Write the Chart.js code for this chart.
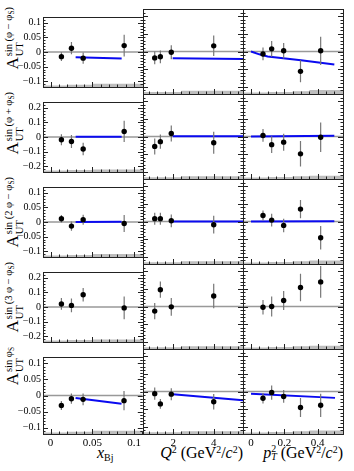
<!DOCTYPE html>
<html lang="en">
<head>
<meta charset="UTF-8">
<title>Transverse target spin asymmetries</title>
<script src="https://cdn.jsdelivr.net/npm/chart.js"></script>
<style>
  body { margin: 0; background: #fff; width: 354px; height: 471px; position: relative; overflow: hidden;
         font-family: "Liberation Serif", "DejaVu Serif", serif; color: #000; }
  canvas { position: absolute; }
  .yt { position: absolute; left: -30px; width: 86px; height: 28px; line-height: 28px; transform: rotate(-90deg);
        text-align: right; white-space: nowrap; }
  .yt .A { font-size: 17px; }
  .yt .ss { display: inline-block; vertical-align: middle; line-height: 11px; font-size: 10.5px; text-align: left; margin-left: 1px; }
  .yt .ss span { display: block; }
  .yt sub { font-size: 0.7em; vertical-align: -0.25em; line-height: 0; }
  .xt { position: absolute; top: 444px; font-size: 16px; line-height: 18px; white-space: nowrap; }
  .xt sup { font-size: 0.62em; vertical-align: 0.5em; line-height: 0; }
  .xt sub { font-size: 0.62em; vertical-align: -0.3em; line-height: 0; }
  .xt .st { display: inline-block; vertical-align: -0.25em; font-size: 0.62em; line-height: 0.85em; }
  .xt .st span { display: block; }
</style>
</head>
<body>
<div class="yt" style="top:36px"><span class="A">A</span><span class="ss"><span>sin (φ − φ<sub>S</sub>)</span><span>UT</span></span></div>
<div class="yt" style="top:121px"><span class="A">A</span><span class="ss"><span>sin (φ + φ<sub>S</sub>)</span><span>UT</span></span></div>
<div class="yt" style="top:206px"><span class="A">A</span><span class="ss"><span>sin (2 φ − φ<sub>S</sub>)</span><span>UT</span></span></div>
<div class="yt" style="top:291px"><span class="A">A</span><span class="ss"><span>sin (3 φ − φ<sub>S</sub>)</span><span>UT</span></span></div>
<div class="yt" style="top:376px"><span class="A">A</span><span class="ss"><span>sin φ<sub>S</sub></span><span>UT</span></span></div>

<div class="xt" style="left:97px"><i>x</i><sub>Bj</sub></div>
<div class="xt" style="right:111px"><i>Q</i><sup>2</sup> (GeV<sup>2</sup>/<i>c</i><sup>2</sup>)</div>
<div class="xt" style="right:11px"><i>p</i><span class="st"><span>2</span><span><i>T</i></span></span> (GeV<sup>2</sup>/<i>c</i><sup>2</sup>)</div>

<script>
// kinematic bins (mean values)
const xBjBins = [0.013, 0.025, 0.039, 0.088];
const q2Bins = [1.08, 1.36, 1.9, 4.0];
const pt2Bins = [0.072, 0.124, 0.196, 0.297, 0.418];

// asymmetries [xBj, Q2, pT2] and statistical errors
const aPhiMinus = [[-0.016, 0.013, -0.021, 0.022], [-0.018, -0.015, -0.002, 0.016], [-0.007, 0.0075, 0.002, -0.056, 0.002]];
const ePhiMinus = [[0.015, 0.021, 0.019, 0.037], [0.018, 0.018, 0.02, 0.029], [0.018, 0.022, 0.022, 0.031, 0.04]];
const aPhiPlus = [[-0.019, -0.031, -0.082, 0.038], [-0.056, -0.029, 0.017, -0.035], [0.006, -0.046, -0.032, -0.098, -0.004]];
const ePhiPlus = [[0.038, 0.045, 0.043, 0.073], [0.045, 0.04, 0.045, 0.062], [0.036, 0.047, 0.048, 0.072, 0.083]];
const a2Phi = [[0.011, -0.014, 0.008, -0.005], [0.008, 0.008, 0.002, -0.009], [0.017, 0.004, -0.011, 0.035, -0.046]];
const e2Phi = [[0.013, 0.016, 0.017, 0.029], [0.017, 0.017, 0.018, 0.025], [0.014, 0.018, 0.019, 0.026, 0.033]];
const a3Phi = [[0.021, 0.011, 0.084, -0.006], [-0.026, 0.095, -0.002, 0.059], [-0.004, 0.0, 0.034, 0.107, 0.139]];
const e3Phi = [[0.04, 0.047, 0.047, 0.078], [0.046, 0.046, 0.05, 0.069], [0.041, 0.056, 0.054, 0.078, 0.09]];
const aPhiS = [[-0.031, -0.01, -0.012, -0.016], [-0.006, -0.035, -0.0075, -0.029], [-0.019, -0.003, -0.014, -0.045, -0.039]];
const ePhiS = [[0.014, 0.016, 0.018, 0.03], [0.017, 0.014, 0.017, 0.022], [0.015, 0.02, 0.018, 0.027, 0.033]];

// model curves (blue)
const cPhiMinusX = [[0.030, 0.085], [1.97, 5.45], [0, 0.05, 0.1, 0.3, 0.5]];
const cPhiMinusY = [[-0.018, -0.022], [-0.019, -0.021], [0, -0.008, -0.014, -0.025, -0.037]];
const cFlatX = [[0.030, 0.085], [1.97, 5.45], [0, 0.5]];
const cPhiPlusY = [[0.001, 0.002], [0.002, 0.002], [0.0, 0.004]];
const c2PhiY = [[0.0, 0.0005], [0.0, 0.0], [0.0, 0.001]];
const cPhiSX = [[0.030, 0.085], [1.97, 5.45], [0, 0.504]];
const cPhiSY = [[-0.0075, -0.026], [-0.0075, -0.025], [-0.0066, -0.018]];

// systematic uncertainty bands
const sysEdges = [[-0.009, 0.02, 0.05, 0.1105], [0.5, 2.4, 5.45], [-0.048, 0.1, 0.25, 0.35, 0.552]];
const sysPhiMinus = [[0.005, 0.008, 0.011], [0.006, 0.009], [0.004, 0.006, 0.008, 0.011]];
const sysPhiPlus = [[0.01, 0.014, 0.018], [0.01, 0.016], [0.008, 0.011, 0.015, 0.018]];
const sys2Phi = [[0.005, 0.007, 0.01], [0.005, 0.008], [0.004, 0.006, 0.008, 0.01]];
const sys3Phi = [[0.01, 0.014, 0.018], [0.01, 0.016], [0.008, 0.011, 0.015, 0.018]];
const sysPhiS = [[0.005, 0.007, 0.01], [0.005, 0.008], [0.004, 0.006, 0.008, 0.01]];

// axes
const xLim = [[-0.009, 0.1105], [0.5, 5.45], [-0.048, 0.552]];
const xMajor = [[0, 0.05, 0.1], [2, 4], [0, 0.2, 0.4]];
const xMinor = [0.01, 0.4, 0.05];

const bins = [xBjBins, q2Bins, pt2Bins];
const rows = [
  { a: aPhiMinus, e: ePhiMinus, cx: cPhiMinusX, cy: cPhiMinusY, sys: sysPhiMinus, lim: 0.12 },
  { a: aPhiPlus, e: ePhiPlus, cx: cFlatX, cy: cPhiPlusY, sys: sysPhiPlus, lim: 0.24 },
  { a: a2Phi, e: e2Phi, cx: cFlatX, cy: c2PhiY, sys: sys2Phi, lim: 0.12 },
  { a: a3Phi, e: e3Phi, cx: null, cy: null, sys: sys3Phi, lim: 0.24 },
  { a: aPhiS, e: ePhiS, cx: cPhiSX, cy: cPhiSY, sys: sysPhiS, lim: 0.12 }
];

const SERIF = '"Liberation Serif", "DejaVu Serif", serif';
const fmt = v => v === 0 ? '0' : (v < 0 ? '\u2212' : '') + String(+Math.abs(v).toFixed(3));

// ROOT-like frame with inward ticks
const frame = {
  id: 'frame',
  afterDatasetsDraw(chart, args, o) {
    const { ctx, chartArea: a, scales: { x, y } } = chart;
    const px = v => Math.round(v) + 0.5;
    const each = (s, step, major, fn) => {
      for (let k = Math.ceil(s.min / step - 1e-6); k * step <= s.max + 1e-9; k++) {
        const v = k * step;
        fn(s.getPixelForValue(v), major.some(m => Math.abs(m - v) < step / 10));
      }
    };
    ctx.save();
    ctx.strokeStyle = '#222';
    ctx.lineWidth = 1;
    ctx.beginPath();
    each(x, o.xMinor, o.xMajor, (p, big) => {
      ctx.moveTo(px(p), a.bottom); ctx.lineTo(px(p), a.bottom - (big ? 5 : 2.5));
    });
    each(y, o.yMinor, o.yMajor, (p, big) => {
      const l = big ? 5 : 2.5;
      ctx.moveTo(a.left, px(p)); ctx.lineTo(a.left + l, px(p));
      ctx.moveTo(a.right, px(p)); ctx.lineTo(a.right - l, px(p));
    });
    ctx.stroke();
    ctx.strokeRect(px(a.left), px(a.top), Math.round(a.right) - Math.round(a.left), Math.round(a.bottom) - Math.round(a.top));
    ctx.restore();
  }
};

// vertical error bars, drawn just before the points
const errBars = {
  id: 'errBars',
  beforeDatasetDraw(chart, args) {
    const ds = chart.data.datasets[args.index];
    if (!ds.errors) return;
    const { ctx, scales: { x, y } } = chart;
    ctx.save();
    ctx.strokeStyle = '#777';
    ctx.lineWidth = 1.2;
    ctx.beginPath();
    ds.data.forEach((p, i) => {
      const xp = x.getPixelForValue(p.x);
      ctx.moveTo(xp, y.getPixelForValue(p.y - ds.errors[i]));
      ctx.lineTo(xp, y.getPixelForValue(p.y + ds.errors[i]));
    });
    ctx.stroke();
    ctx.restore();
  }
};

function makePanel(r, c) {
  const row = rows[r];
  const left = 43 + 100 * c, top = 9 + 85 * r;
  const yAxW = c === 0 ? 25 : 0, xAxH = r === 4 ? 18 : 0;
  const cv = document.createElement('canvas');
  cv.width = 101 + yAxW;
  cv.height = 86 + xAxH;
  cv.style.left = (left - yAxW) + 'px';
  cv.style.top = top + 'px';
  document.body.appendChild(cv);

  const lim = row.lim;
  const yMajor = lim > 0.2 ? [-0.2, -0.1, 0, 0.1, 0.2] : [-0.1, -0.05, 0, 0.05, 0.1];
  const yMinor = lim > 0.2 ? 0.02 : 0.01;
  const edges = sysEdges[c], sys = row.sys[c];
  const band = edges.map((x, i) => ({ x, y: -lim + sys[Math.min(i, sys.length - 1)] }));

  const datasets = [
    {
      type: 'scatter', order: 0,
      data: bins[c].map((x, i) => ({ x, y: row.a[c][i] })),
      errors: row.e[c],
      pointRadius: 2.7, pointBackgroundColor: '#000', pointBorderWidth: 0
    },
    {
      type: 'line', order: 2, showLine: true,
      data: [{ x: xLim[c][0], y: 0 }, { x: xLim[c][1], y: 0 }],
      borderColor: '#999', borderWidth: 1.4, pointRadius: 0
    },
    {
      type: 'line', order: 3, showLine: true, stepped: true, fill: 'start',
      data: band, backgroundColor: '#bdbdbd', borderWidth: 0, pointRadius: 0
    }
  ];
  if (row.cx) {
    datasets.push({
      type: 'line', order: 1, showLine: true,
      data: row.cx[c].map((x, i) => ({ x, y: row.cy[c][i] })),
      borderColor: '#0a0af0', borderWidth: 2, pointRadius: 0, tension: 0
    });
  }

  new Chart(cv, {
    type: 'scatter',
    data: { datasets },
    options: {
      responsive: false, animation: false, devicePixelRatio: 1, events: [],
      layout: { autoPadding: false, padding: { left: 0, top: 0, right: 1, bottom: 1 } },
      plugins: {
        legend: { display: false }, tooltip: { enabled: false },
        frame: { xMinor: xMinor[c], xMajor: xMajor[c], yMinor, yMajor }
      },
      scales: {
        x: {
          type: 'linear', min: xLim[c][0], max: xLim[c][1], display: r === 4,
          grid: { display: false, drawTicks: false }, border: { display: false },
          afterBuildTicks: s => { s.ticks = xMajor[c].map(value => ({ value })); },
          afterFit: s => { s.height = xAxH; },
          ticks: { padding: 3, color: '#000', maxRotation: 0, autoSkip: false,
                   font: { family: SERIF, size: 11 }, callback: fmt }
        },
        y: {
          type: 'linear', min: -lim, max: lim, display: c === 0,
          grid: { display: false, drawTicks: false }, border: { display: false },
          afterBuildTicks: s => { s.ticks = yMajor.map(value => ({ value })); },
          afterFit: s => { s.width = yAxW; },
          ticks: { padding: 2, color: '#000', font: { family: SERIF, size: 10 }, callback: fmt }
        }
      }
    },
    plugins: [errBars, frame]
  });
}

for (let r = 0; r < rows.length; r++) {
  for (let c = 0; c < 3; c++) makePanel(r, c);
}
</script>
</body>
</html>
